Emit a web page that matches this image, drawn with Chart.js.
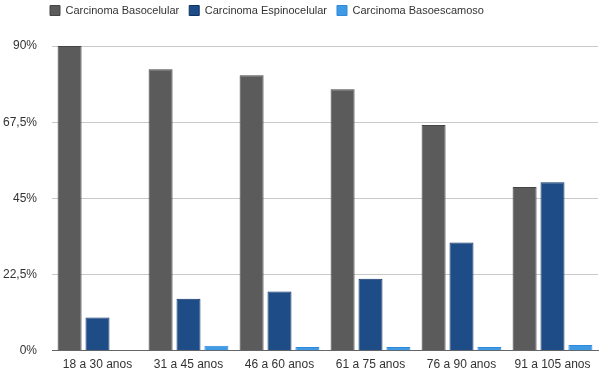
<!DOCTYPE html>
<html>
<head>
<meta charset="utf-8">
<script src="https://cdn.jsdelivr.net/npm/chart.js@4/dist/chart.umd.min.js"></script>
<style>
  html, body { margin: 0; padding: 0; background: #fff; overflow: hidden; }
  canvas { display: block; }
</style>
</head>
<body>
<canvas id="chart" width="600" height="373"></canvas>
<script>
var categories = ['18 a 30 anos', '31 a 45 anos', '46 a 60 anos', '61 a 75 anos', '76 a 90 anos', '91 a 105 anos'];
var basocelular = [90, 83.1, 81.4, 77.2, 66.7, 48.4];
var espinocelular = [9.8, 15.4, 17.5, 21.3, 32, 49.8];
var basoescamoso = [0, 1.5, 1.1, 1.1, 1.1, 1.7];
var yTicks = [0, 22.5, 45, 67.5, 90];

// legend: make it taller (pushes plot down) and nudge it to where the original sits
var legendShift = {
    id: 'legendShift',
    beforeInit: function(chart) {
        var origFit = chart.legend.fit;
        chart.legend.fit = function() {
            origFit.bind(chart.legend)();
            this.height += 15;
        };
    },
    afterLayout: function(chart) {
        chart.legend.left = 40;
        chart.legend.right = 640;
        chart.legend.top = -5;
    }
};

window.addEventListener('DOMContentLoaded', () => {
    var ctx = document.getElementById('chart').getContext('2d');
    var chart = new Chart(ctx, {
        type: 'bar',
        data: {
            labels: categories,
            datasets: [{
                label: 'Carcinoma Basocelular',
                data: basocelular,
                backgroundColor: '#5b5b5b',
                borderColor: '#454545',
                borderWidth: 1
            }, {
                label: 'Carcinoma Espinocelular',
                data: espinocelular,
                backgroundColor: '#1d4c86',
                borderColor: '#0f3263',
                borderWidth: 1
            }, {
                label: 'Carcinoma Basoescamoso',
                data: basoescamoso,
                backgroundColor: '#3f9ae6',
                borderColor: '#3088d6',
                borderWidth: 1
            }]
        },
        options: {
            responsive: false,
            animation: false,
            layout: { padding: { left: 0, right: 2, top: 0, bottom: 0 } },
            categoryPercentage: 0.92,
            barPercentage: 0.86,
            plugins: {
                legend: {
                    align: 'start',
                    labels: {
                        boxWidth: 10,
                        boxHeight: 10,
                        padding: 10,
                        color: '#333',
                        font: { family: 'Liberation Sans', size: 11 }
                    }
                },
                tooltip: { enabled: false }
            },
            scales: {
                x: {
                    afterFit: function(scale) { scale.height = 18; },
                    grid: { display: false, drawTicks: false },
                    border: { display: true, color: '#666', width: 1 },
                    ticks: {
                        color: '#333',
                        padding: 7,
                        maxRotation: 0,
                        font: { family: 'Liberation Sans', size: 12 }
                    }
                },
                y: {
                    min: 0,
                    max: 90,
                    afterBuildTicks: function(scale) {
                        scale.ticks = yTicks.map(v => ({ value: v }));
                    },
                    afterFit: function(scale) { scale.width = 52; },
                    grid: { color: '#c9c9c9', drawTicks: false },
                    border: { display: false },
                    ticks: {
                        color: '#333',
                        padding: 15,
                        font: { family: 'Liberation Sans', size: 12 },
                        callback: function(v) { return String(v).replace('.', ',') + '%'; }
                    }
                }
            }
        },
        plugins: [legendShift]
    });
})
</script>
</body>
</html>
